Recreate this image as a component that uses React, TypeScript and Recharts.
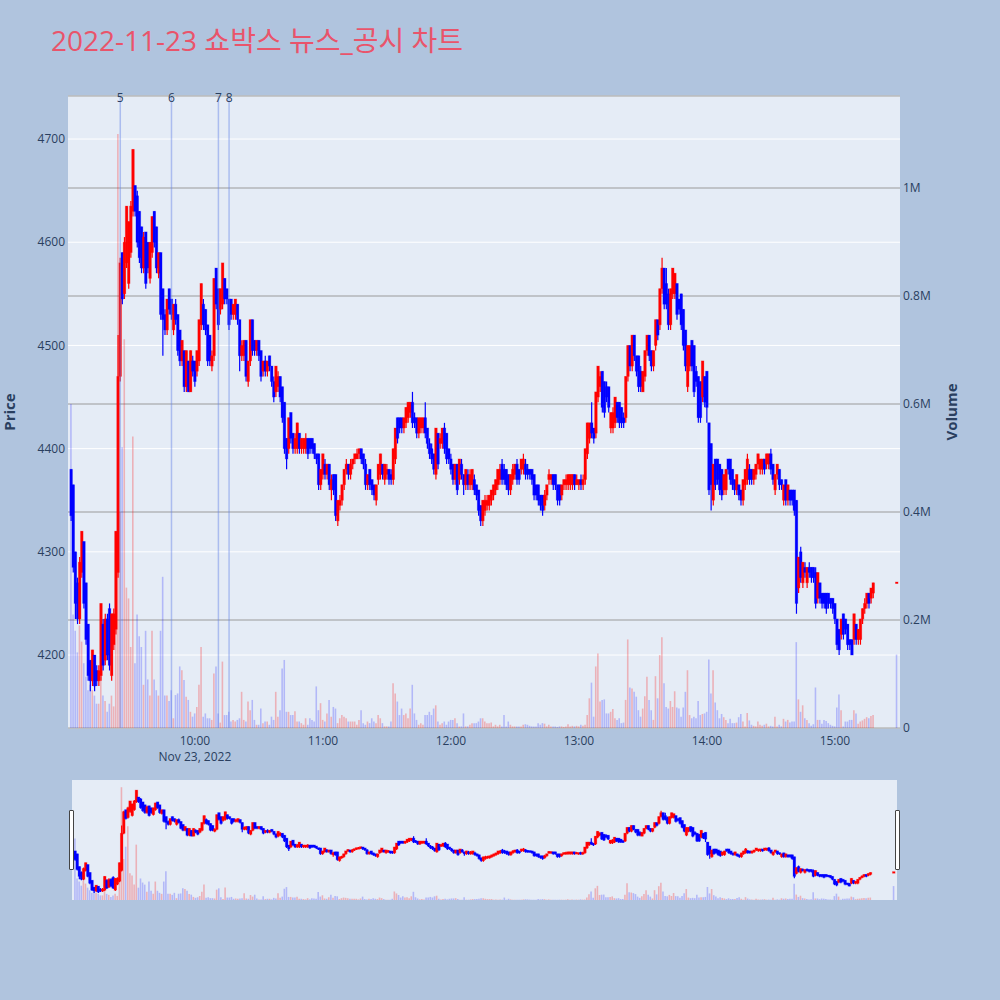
import { ComposedChart, Bar, Cell, XAxis, YAxis, CartesianGrid, ReferenceLine } from 'recharts'

// 1분봉 (09:02 ~ 15:18) + 종가 단일가 체결
const FIRST_TIME = '09:02'

const opens = [
  4380, 4365, 4300, 4270, 4235, 4280, 4310, 4270, 4230, 4195,
  4175, 4200, 4185, 4175, 4180, 4230, 4195, 4235, 4245, 4180,
  4210, 4225, 4280, 4470, 4590, 4550, 4580, 4560, 4590, 4630,
  4655, 4645, 4630, 4615, 4575, 4610, 4600, 4565, 4590, 4630,
  4615, 4570, 4590, 4555, 4530, 4515, 4555, 4545, 4515, 4540,
  4530, 4515, 4485, 4495, 4460, 4485, 4455, 4485, 4485, 4475,
  4485, 4520, 4540, 4535, 4520, 4510, 4480, 4490, 4575, 4555,
  4535, 4540, 4565, 4555, 4545, 4545, 4530, 4530, 4540, 4525,
  4490, 4490, 4505, 4465, 4485, 4525, 4505, 4495, 4505, 4495,
  4475, 4485, 4475, 4490, 4480, 4465, 4455, 4460, 4470, 4460,
  4445, 4410, 4400, 4435, 4415, 4400, 4400, 4415, 4400, 4400,
  4400, 4410, 4410, 4410, 4405, 4395, 4395, 4365, 4375, 4385,
  4375, 4385, 4360, 4375, 4375, 4330, 4345, 4350, 4365, 4380,
  4385, 4375, 4385, 4390, 4390, 4395, 4400, 4395, 4385, 4365,
  4380, 4370, 4365, 4350, 4370, 4375, 4385, 4370, 4375, 4380,
  4375, 4370, 4390, 4430, 4430, 4430, 4420, 4425, 4430, 4435,
  4445, 4430, 4430, 4415, 4420, 4420, 4430, 4420, 4405, 4400,
  4395, 4375, 4415, 4405, 4405, 4420, 4415, 4400, 4390, 4385,
  4370, 4385, 4370, 4385, 4375, 4365, 4375, 4365, 4365, 4370,
  4365, 4360, 4345, 4330, 4340, 4345, 4345, 4350, 4355, 4360,
  4365, 4370, 4385, 4380, 4380, 4375, 4360, 4370, 4375, 4385,
  4380, 4380, 4380, 4385, 4380, 4380, 4380, 4375, 4365, 4365,
  4355, 4355, 4345, 4355, 4370, 4370, 4375, 4375, 4365, 4365,
  4355, 4365, 4365, 4365, 4365, 4365, 4375, 4365, 4365, 4370,
  4365, 4370, 4395, 4410, 4425, 4420, 4415, 4450, 4460, 4475,
  4465, 4460, 4460, 4420, 4420, 4425, 4445, 4445, 4440, 4430,
  4430, 4470, 4500, 4480, 4510, 4490, 4490, 4475, 4455, 4470,
  4495, 4510, 4495, 4480, 4500, 4525, 4520, 4555, 4575, 4560,
  4550, 4520, 4550, 4550, 4560, 4545, 4550, 4535, 4515, 4460,
  4480, 4505, 4500, 4475, 4470, 4465, 4450, 4470, 4475, 4425,
  4405, 4350, 4390, 4390, 4385, 4380, 4360, 4360, 4390, 4390,
  4380, 4370, 4360, 4365, 4360, 4350, 4365, 4370, 4380, 4380,
  4370, 4375, 4385, 4380, 4380, 4390, 4385, 4385, 4395, 4385,
  4360, 4375, 4380, 4370, 4350, 4370, 4350, 4360, 4360, 4360,
  4350, 4265, 4300, 4270, 4285, 4270, 4285, 4285, 4285, 4280,
  4255, 4270, 4260, 4260, 4260, 4260, 4255, 4255, 4250, 4235,
  4225, 4220, 4240, 4235, 4230, 4215, 4215, 4215, 4230, 4215,
  4215, 4235, 4245, 4250, 4260, 4255, 4260,
]

const highs = [
  4380, 4365, 4300, 4275, 4295, 4320, 4310, 4270, 4230, 4195,
  4205, 4200, 4190, 4190, 4250, 4235, 4240, 4240, 4250, 4240,
  4245, 4320, 4510, 4585, 4590, 4605, 4635, 4620, 4640, 4690,
  4655, 4650, 4630, 4615, 4610, 4610, 4600, 4600, 4625, 4630,
  4615, 4590, 4590, 4555, 4535, 4545, 4555, 4545, 4540, 4545,
  4530, 4515, 4505, 4495, 4495, 4485, 4495, 4490, 4485, 4495,
  4525, 4560, 4545, 4535, 4520, 4510, 4495, 4565, 4575, 4555,
  4555, 4580, 4565, 4555, 4545, 4545, 4540, 4545, 4540, 4525,
  4505, 4505, 4505, 4485, 4525, 4525, 4505, 4505, 4505, 4495,
  4485, 4490, 4485, 4490, 4480, 4470, 4480, 4475, 4470, 4460,
  4445, 4410, 4430, 4435, 4415, 4415, 4425, 4415, 4410, 4410,
  4415, 4410, 4410, 4410, 4405, 4395, 4395, 4380, 4395, 4390,
  4385, 4385, 4375, 4375, 4375, 4350, 4355, 4365, 4380, 4390,
  4385, 4390, 4390, 4395, 4400, 4400, 4400, 4395, 4390, 4375,
  4380, 4370, 4365, 4365, 4385, 4395, 4385, 4385, 4385, 4380,
  4380, 4400, 4420, 4430, 4430, 4430, 4430, 4440, 4445, 4445,
  4455, 4435, 4430, 4430, 4430, 4430, 4445, 4420, 4410, 4405,
  4395, 4420, 4415, 4415, 4420, 4425, 4415, 4400, 4395, 4385,
  4385, 4385, 4390, 4390, 4375, 4380, 4380, 4380, 4380, 4375,
  4365, 4360, 4345, 4350, 4355, 4355, 4355, 4360, 4365, 4370,
  4380, 4385, 4390, 4385, 4380, 4375, 4375, 4385, 4385, 4390,
  4380, 4390, 4395, 4390, 4385, 4380, 4380, 4375, 4365, 4365,
  4355, 4355, 4360, 4365, 4380, 4375, 4375, 4375, 4365, 4365,
  4365, 4370, 4375, 4375, 4375, 4375, 4375, 4375, 4370, 4375,
  4375, 4400, 4425, 4425, 4445, 4420, 4455, 4480, 4475, 4475,
  4465, 4465, 4460, 4435, 4440, 4450, 4445, 4445, 4440, 4435,
  4470, 4500, 4500, 4510, 4510, 4490, 4490, 4480, 4475, 4495,
  4510, 4510, 4495, 4495, 4525, 4525, 4555, 4585, 4575, 4575,
  4555, 4555, 4575, 4570, 4560, 4545, 4550, 4535, 4515, 4500,
  4500, 4505, 4500, 4480, 4470, 4465, 4485, 4470, 4475, 4425,
  4405, 4385, 4390, 4390, 4385, 4380, 4375, 4380, 4390, 4390,
  4380, 4370, 4375, 4365, 4360, 4370, 4380, 4395, 4385, 4380,
  4380, 4385, 4395, 4390, 4390, 4390, 4395, 4395, 4400, 4385,
  4375, 4385, 4380, 4370, 4365, 4370, 4365, 4360, 4360, 4360,
  4350, 4295, 4305, 4290, 4290, 4285, 4290, 4285, 4285, 4285,
  4280, 4270, 4260, 4260, 4260, 4260, 4255, 4255, 4250, 4235,
  4225, 4235, 4240, 4235, 4230, 4215, 4215, 4240, 4230, 4225,
  4235, 4245, 4255, 4260, 4260, 4265, 4270,
]

const lows = [
  4330, 4280, 4235, 4230, 4230, 4275, 4245, 4210, 4175, 4165,
  4170, 4165, 4170, 4170, 4175, 4185, 4190, 4195, 4185, 4175,
  4205, 4220, 4275, 4465, 4540, 4545, 4575, 4555, 4585, 4625,
  4625, 4595, 4580, 4570, 4570, 4555, 4570, 4560, 4585, 4595,
  4570, 4565, 4525, 4490, 4510, 4510, 4530, 4525, 4510, 4520,
  4490, 4480, 4480, 4455, 4455, 4455, 4455, 4470, 4460, 4470,
  4480, 4515, 4515, 4510, 4480, 4480, 4475, 4485, 4535, 4515,
  4530, 4535, 4540, 4540, 4515, 4525, 4525, 4525, 4520, 4475,
  4485, 4485, 4465, 4460, 4480, 4490, 4490, 4490, 4485, 4465,
  4470, 4470, 4470, 4475, 4460, 4445, 4450, 4455, 4445, 4425,
  4395, 4380, 4395, 4405, 4395, 4395, 4395, 4395, 4395, 4395,
  4395, 4390, 4395, 4395, 4390, 4385, 4360, 4360, 4370, 4370,
  4370, 4360, 4350, 4355, 4330, 4325, 4340, 4345, 4360, 4375,
  4370, 4370, 4380, 4385, 4390, 4390, 4385, 4380, 4360, 4360,
  4360, 4355, 4350, 4345, 4365, 4370, 4370, 4365, 4370, 4365,
  4365, 4365, 4385, 4405, 4415, 4415, 4415, 4420, 4425, 4430,
  4420, 4420, 4410, 4410, 4415, 4415, 4410, 4400, 4390, 4385,
  4375, 4370, 4380, 4400, 4400, 4395, 4385, 4385, 4375, 4365,
  4365, 4355, 4365, 4370, 4355, 4360, 4360, 4360, 4360, 4355,
  4350, 4335, 4325, 4325, 4335, 4340, 4340, 4345, 4350, 4355,
  4360, 4365, 4365, 4365, 4360, 4355, 4355, 4365, 4370, 4365,
  4365, 4375, 4375, 4370, 4370, 4370, 4365, 4350, 4350, 4345,
  4340, 4335, 4340, 4350, 4365, 4365, 4360, 4360, 4345, 4345,
  4350, 4360, 4360, 4360, 4360, 4360, 4360, 4365, 4360, 4360,
  4360, 4365, 4390, 4405, 4410, 4405, 4410, 4445, 4455, 4435,
  4430, 4445, 4435, 4415, 4415, 4420, 4425, 4420, 4420, 4420,
  4425, 4465, 4475, 4475, 4485, 4470, 4455, 4455, 4455, 4465,
  4490, 4485, 4475, 4475, 4495, 4505, 4515, 4550, 4535, 4535,
  4515, 4515, 4545, 4545, 4525, 4530, 4515, 4495, 4475, 4455,
  4475, 4475, 4450, 4460, 4425, 4425, 4445, 4440, 4425, 4355,
  4340, 4345, 4360, 4365, 4355, 4350, 4355, 4355, 4375, 4365,
  4360, 4355, 4355, 4350, 4345, 4345, 4360, 4365, 4365, 4365,
  4365, 4370, 4380, 4375, 4375, 4375, 4380, 4380, 4375, 4365,
  4355, 4370, 4360, 4360, 4345, 4345, 4345, 4345, 4345, 4335,
  4240, 4260, 4270, 4265, 4275, 4265, 4275, 4270, 4270, 4245,
  4250, 4250, 4245, 4245, 4240, 4245, 4245, 4240, 4230, 4205,
  4200, 4215, 4215, 4220, 4205, 4205, 4200, 4210, 4210, 4210,
  4210, 4230, 4240, 4245, 4245, 4250, 4255,
]

const closes = [
  4335, 4285, 4250, 4235, 4290, 4320, 4250, 4215, 4180, 4175,
  4205, 4170, 4175, 4185, 4250, 4190, 4235, 4200, 4190, 4240,
  4240, 4320, 4470, 4580, 4545, 4600, 4635, 4620, 4635, 4690,
  4630, 4600, 4585, 4575, 4605, 4560, 4575, 4600, 4625, 4600,
  4575, 4590, 4530, 4525, 4515, 4545, 4535, 4530, 4540, 4525,
  4495, 4485, 4505, 4460, 4495, 4455, 4495, 4475, 4465, 4495,
  4525, 4560, 4520, 4515, 4485, 4485, 4490, 4565, 4540, 4520,
  4555, 4580, 4545, 4545, 4520, 4530, 4540, 4545, 4525, 4490,
  4500, 4505, 4470, 4485, 4525, 4495, 4495, 4505, 4490, 4470,
  4485, 4475, 4485, 4480, 4465, 4450, 4480, 4470, 4450, 4430,
  4400, 4390, 4430, 4410, 4400, 4410, 4425, 4400, 4410, 4410,
  4410, 4395, 4400, 4400, 4395, 4390, 4365, 4380, 4395, 4375,
  4385, 4365, 4370, 4360, 4335, 4350, 4350, 4365, 4380, 4385,
  4375, 4385, 4390, 4395, 4395, 4400, 4390, 4385, 4365, 4375,
  4365, 4360, 4355, 4365, 4385, 4395, 4375, 4385, 4380, 4370,
  4370, 4400, 4420, 4410, 4420, 4420, 4430, 4440, 4445, 4445,
  4425, 4425, 4415, 4430, 4430, 4430, 4415, 4405, 4395, 4390,
  4380, 4420, 4385, 4410, 4420, 4400, 4390, 4390, 4380, 4370,
  4385, 4360, 4390, 4375, 4365, 4380, 4365, 4375, 4380, 4360,
  4355, 4340, 4330, 4350, 4350, 4350, 4355, 4360, 4365, 4370,
  4380, 4380, 4370, 4370, 4365, 4360, 4375, 4380, 4385, 4370,
  4370, 4390, 4390, 4375, 4375, 4375, 4370, 4355, 4355, 4350,
  4345, 4340, 4355, 4365, 4375, 4375, 4365, 4365, 4350, 4350,
  4365, 4370, 4370, 4375, 4375, 4375, 4365, 4370, 4370, 4365,
  4370, 4400, 4425, 4425, 4415, 4410, 4455, 4480, 4470, 4440,
  4435, 4450, 4440, 4435, 4435, 4450, 4430, 4425, 4425, 4425,
  4470, 4500, 4480, 4510, 4490, 4475, 4460, 4460, 4475, 4495,
  4510, 4490, 4480, 4495, 4525, 4510, 4555, 4575, 4540, 4540,
  4520, 4555, 4575, 4570, 4530, 4535, 4520, 4500, 4480, 4500,
  4500, 4480, 4455, 4465, 4430, 4430, 4485, 4445, 4440, 4360,
  4365, 4385, 4365, 4370, 4360, 4355, 4375, 4380, 4380, 4370,
  4365, 4360, 4375, 4355, 4350, 4370, 4380, 4390, 4370, 4370,
  4380, 4385, 4395, 4390, 4390, 4380, 4395, 4395, 4380, 4370,
  4375, 4385, 4365, 4365, 4365, 4350, 4365, 4350, 4350, 4340,
  4250, 4295, 4275, 4290, 4280, 4285, 4280, 4275, 4275, 4250,
  4280, 4255, 4250, 4250, 4245, 4250, 4250, 4245, 4235, 4210,
  4205, 4235, 4220, 4225, 4210, 4210, 4200, 4240, 4215, 4225,
  4235, 4245, 4250, 4260, 4250, 4265, 4270,
]

// 거래량 (천 주)
const volumesK = [
  600, 210, 180, 140, 190, 160, 120, 95, 70, 80,
  70, 60, 45, 45, 95, 60, 50, 30, 45, 60,
  40, 230, 1100, 400, 520, 720, 260, 240, 150, 540,
  120, 210, 170, 150, 80, 180, 90, 60, 180, 90,
  70, 60, 180, 280, 60, 60, 50, 70, 18, 61,
  64, 114, 107, 89, 58, 52, 30, 21, 27, 39,
  80, 150, 21, 27, 18, 18, 15, 101, 114, 27,
  10, 123, 24, 24, 30, 12, 15, 12, 15, 18,
  67, 15, 12, 49, 33, 52, 15, 6, 6, 36,
  9, 12, 12, 6, 21, 15, 67, 21, 33, 110,
  126, 30, 30, 24, 24, 31, 12, 12, 9, 6,
  18, 6, 18, 15, 12, 77, 33, 46, 15, 12,
  27, 52, 21, 39, 36, 9, 18, 24, 21, 18,
  12, 12, 12, 12, 6, 15, 33, 9, 6, 12,
  9, 18, 12, 9, 24, 18, 9, 3, 3, 3,
  12, 83, 64, 49, 24, 36, 24, 27, 18, 36,
  80, 27, 15, 6, 9, 6, 24, 24, 30, 24,
  36, 42, 12, 6, 9, 12, 6, 12, 15, 15,
  18, 9, 3, 3, 27, 3, 3, 6, 9, 9,
  9, 12, 18, 18, 12, 9, 9, 10, 3, 6,
  3, 6, 3, 24, 3, 12, 6, 3, 3, 3,
  3, 3, 6, 7, 6, 4, 3, 3, 3, 9,
  6, 9, 8, 3, 6, 3, 3, 3, 2, 3,
  3, 2, 3, 7, 3, 4, 3, 4, 3, 6,
  4, 6, 24, 55, 84, 21, 114, 138, 49, 52,
  53, 27, 27, 30, 35, 18, 15, 18, 9, 10,
  52, 164, 75, 73, 67, 58, 33, 21, 36, 59,
  95, 52, 33, 15, 96, 55, 135, 168, 83, 39,
  36, 50, 39, 68, 38, 36, 21, 38, 67, 107,
  24, 18, 21, 18, 50, 24, 26, 27, 30, 127,
  64, 107, 47, 33, 18, 26, 20, 15, 9, 17,
  9, 9, 10, 20, 26, 12, 3, 28, 14, 6,
  4, 3, 12, 6, 4, 6, 8, 3, 4, 3,
  21, 3, 6, 3, 17, 12, 15, 10, 12, 12,
  159, 53, 30, 42, 18, 15, 9, 4, 7, 75,
  15, 15, 8, 15, 13, 9, 6, 4, 3, 38,
  62, 33, 3, 12, 12, 15, 15, 33, 27, 8,
  12, 14, 17, 20, 18, 22, 24,
]

const closingAuction = { time: '15:29', price: 4270, volumeK: 136 }

// 뉴스/공시 발생 시각
const newsMarks = [
  { time: '09:25', label: '5' },
  { time: '09:49', label: '6' },
  { time: '10:11', label: '7' },
  { time: '10:16', label: '8' },
]

const priceTicks = [4200, 4300, 4400, 4500, 4600, 4700]
const volumeTicks = [0, 200000, 400000, 600000, 800000, 1000000]
const timeTicks = ['10:00', '11:00', '12:00', '13:00', '14:00', '15:00']
const dateLabel = 'Nov 23, 2022'
const title = '2022-11-23 쇼박스 뉴스_공시 차트'

const INC = '#ff0000'
const DEC = '#0000ff'
const VOL_INC = 'rgba(255, 0, 0, 0.25)'
const VOL_DEC = 'rgba(0, 0, 255, 0.22)'
const TEXT = '#2a3f5f'
const FONT = '"Open Sans", "Noto Sans CJK KR", sans-serif'

const PRICE_DOMAIN: [number, number] = [4129.3, 4741.7]
const VOLUME_DOMAIN: [number, number] = [0, 1170400]
const TIME_DOMAIN: [number, number] = [0.5, 390.5]

const toMinute = (t: string) => {
  const [h, m] = t.split(':').map(Number)
  return (h - 9) * 60 + m
}
const fmtMinute = (v: number) =>
  `${String(9 + Math.floor(v / 60)).padStart(2, '0')}:${String(v % 60).padStart(2, '0')}`

type Candle = { minute: number; open: number; high: number; low: number; close: number; volume: number }

const candles: Candle[] = opens.map((open, i) => ({
  minute: toMinute(FIRST_TIME) + i,
  open,
  high: highs[i],
  low: lows[i],
  close: closes[i],
  volume: volumesK[i] * 1000,
}))
candles.push({
  minute: toMinute(closingAuction.time),
  open: closingAuction.price,
  high: closingAuction.price,
  low: closingAuction.price,
  close: closingAuction.price,
  volume: closingAuction.volumeK * 1000,
})

const tickMinutes = timeTicks.map(toMinute)

function CandleShape(props: any) {
  const { x, y, width, height, payload } = props
  if (payload == null || x == null || y == null) return null
  const { open, close, high, low } = payload as Candle
  const color = close >= open ? INC : DEC
  const cx = x + width / 2
  const range = high - low
  const yOf = (v: number) => (range > 0 ? y + ((high - v) / range) * height : y)
  const top = yOf(Math.max(open, close))
  const bottom = yOf(Math.min(open, close))
  const h = Math.max(bottom - top, 1.6)
  const bodyY = bottom - top < 1.6 ? (top + bottom) / 2 - 0.8 : top
  return (
    <g>
      {range > 0 && <line x1={cx} x2={cx} y1={y} y2={y + height} stroke={color} strokeWidth={1.2} />}
      <rect
        x={cx - 1.3}
        y={bodyY}
        width={2.6}
        height={h}
        fill={color}
        stroke={color}
        strokeOpacity={0.35}
        strokeWidth={0.8}
      />
    </g>
  )
}

function TimeTick({ x, y, payload }: any) {
  return (
    <g>
      <text x={x} y={y + 17} textAnchor="middle" fill={TEXT} fontSize={12} fontFamily={FONT}>
        {fmtMinute(payload.value)}
      </text>
      {payload.value === tickMinutes[0] && (
        <text x={x} y={y + 33} textAnchor="middle" fill={TEXT} fontSize={12} fontFamily={FONT}>
          {dateLabel}
        </text>
      )}
    </g>
  )
}

const volumeCells = (
  candles.map((c, i) => <Cell key={`v-${i}`} fill={c.close > c.open ? VOL_INC : VOL_DEC} />)
)

// 배경, 축, 그리드, 거래량
function BaseChart() {
  const tickStyle = { fill: TEXT, fontSize: 12, fontFamily: FONT }
  return (
    <ComposedChart width={1000} height={780} data={candles} margin={{ top: 96, right: 0, bottom: 12, left: 0 }}>
      <CartesianGrid yAxisId="price" vertical={false} stroke="#ffffff" fill="#e5ecf6" />
      <CartesianGrid yAxisId="vol" vertical={false} stroke="#9a9a9a" />
      <XAxis
        dataKey="minute"
        type="number"
        domain={TIME_DOMAIN}
        ticks={tickMinutes}
        height={40}
        tickLine={false}
        axisLine={false}
        tickSize={0}
        tickMargin={0}
        tick={<TimeTick />}
      />
      <YAxis
        yAxisId="price"
        orientation="left"
        width={68}
        type="number"
        domain={PRICE_DOMAIN}
        allowDataOverflow
        ticks={priceTicks}
        tickLine={false}
        axisLine={false}
        tickSize={0}
        tickMargin={3}
        tick={tickStyle}
        label={{
          value: 'Price',
          angle: -90,
          position: 'insideLeft',
          offset: 10,
          style: { textAnchor: 'middle', fontWeight: 'bold', fontSize: 15, fill: TEXT, fontFamily: FONT },
        }}
      />
      <YAxis
        yAxisId="vol"
        orientation="right"
        width={100}
        domain={VOLUME_DOMAIN}
        allowDataOverflow
        ticks={volumeTicks}
        tickLine={false}
        axisLine={false}
        tickSize={0}
        tickMargin={3}
        tick={tickStyle}
        tickFormatter={(v: number) => (v === 0 ? '0' : `${v / 1e6}M`)}
        label={{
          value: 'Volume',
          angle: -90,
          position: 'insideRight',
          offset: 48,
          style: { textAnchor: 'middle', fontWeight: 'bold', fontSize: 15, fill: TEXT, fontFamily: FONT },
        }}
      />
      <Bar yAxisId="vol" dataKey="volume" barSize={1.6} isAnimationActive={false}>
        {volumeCells}
      </Bar>
    </ComposedChart>
  )
}

// 캔들 + 뉴스 세로선
function CandleChart() {
  return (
    <ComposedChart width={1000} height={780} data={candles} margin={{ top: 96, right: 100, bottom: 52, left: 68 }}>
      <XAxis dataKey="minute" type="number" domain={TIME_DOMAIN} hide />
      <YAxis domain={PRICE_DOMAIN} allowDataOverflow hide />
      <Bar
        dataKey={(d: Candle) => [d.low, d.high]}
        barSize={2}
        shape={(p: any) => <CandleShape {...p} />}
        isAnimationActive={false}
      />
      {newsMarks.map((m) => (
        <ReferenceLine
          key={m.label}
          x={toMinute(m.time)}
          stroke="rgba(100, 130, 230, 0.45)"
          strokeWidth={1.5}
          label={{ value: m.label, position: 'insideTop', offset: -3, fill: TEXT, fontSize: 12, fontFamily: FONT }}
        />
      ))}
    </ComposedChart>
  )
}

function RangeSlider() {
  const w = 825
  const h = 120
  const handle = { position: 'absolute' as const, top: 30, width: 3, height: 58, background: '#ffffff', border: '1px solid #444', borderRadius: 1 }
  return (
    <div style={{ position: 'absolute', left: 72, top: 780, width: w, height: h, background: '#e5ecf6' }}>
      <div style={{ position: 'absolute', left: 0, top: 0 }}>
        <ComposedChart width={w} height={h} data={candles} margin={{ top: 0, right: 0, bottom: 0, left: 0 }}>
          <XAxis dataKey="minute" type="number" domain={TIME_DOMAIN} hide />
          <YAxis domain={VOLUME_DOMAIN} allowDataOverflow hide />
          <Bar dataKey="volume" barSize={1.6} isAnimationActive={false}>
            {volumeCells}
          </Bar>
        </ComposedChart>
      </div>
      <div style={{ position: 'absolute', left: 0, top: 0 }}>
        <ComposedChart width={w} height={h} data={candles} margin={{ top: 0, right: 0, bottom: 0, left: 0 }}>
          <XAxis dataKey="minute" type="number" domain={TIME_DOMAIN} hide />
          <YAxis domain={PRICE_DOMAIN} allowDataOverflow hide />
          <Bar
            dataKey={(d: Candle) => [d.low, d.high]}
            barSize={2}
            shape={(p: any) => <CandleShape {...p} />}
            isAnimationActive={false}
          />
        </ComposedChart>
      </div>
      <div style={{ ...handle, left: -3 }} />
      <div style={{ ...handle, left: w - 2 }} />
    </div>
  )
}

export default function App() {
  return (
    <div
      style={{
        position: 'absolute',
        left: 0,
        top: 0,
        width: 1000,
        height: 1000,
        background: '#b0c4de',
        overflow: 'hidden',
        fontFamily: FONT,
      }}
    >
      <div style={{ position: 'absolute', left: 0, top: 0 }}>
        <BaseChart />
      </div>
      <div style={{ position: 'absolute', left: 0, top: 0 }}>
        <CandleChart />
      </div>
      <svg width={1000} height={80} style={{ position: 'absolute', left: 0, top: 0 }}>
        <text x={51} y={51} fontSize={28} fill="#e9546b" fontFamily={FONT}>
          {title}
        </text>
      </svg>
      <RangeSlider />
    </div>
  )
}
